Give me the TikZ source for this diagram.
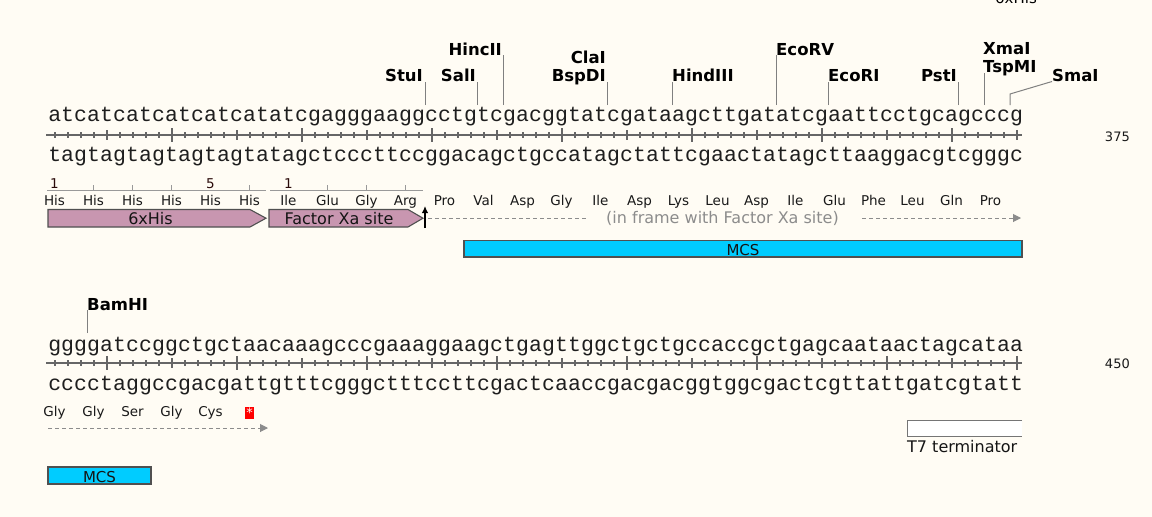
\documentclass[tikz,border=0pt]{standalone}
\usepackage{fontspec}
\setmainfont{DejaVu Sans}
\newfontfamily\seqfont{Liberation Mono}
\usetikzlibrary{arrows.meta}
\definecolor{bg}{HTML}{FFFCF4}
\definecolor{featpink}{HTML}{C896B0}
\definecolor{mcsblue}{HTML}{00CCFF}
\definecolor{rulgray}{HTML}{666666}
\definecolor{enzgray}{HTML}{808080}
\definecolor{txtgray}{HTML}{8C8C8C}
\definecolor{fborder}{HTML}{505050}
\definecolor{seqcol}{HTML}{1E1E1E}
\definecolor{numcol}{HTML}{2A0A0A}
\def\seqloopx#1{\ifx#1\relax\else\makebox[13pt]{#1}\expandafter\seqloopx\fi}
\newcommand\seqtxt[1]{\seqloopx#1\relax}
\tikzset{
  seqrow/.style={font=\seqfont\fontsize{21.5}{24}\selectfont, anchor=base west, inner sep=0pt, text=seqcol},
  enz/.style={font=\bfseries\fontsize{16.5}{18}\selectfont, inner sep=0pt, text=black},
  enzline/.style={draw=enzgray, line width=1pt},
  aa/.style={font=\fontsize{13.5}{15}\selectfont, anchor=base, inner sep=0pt, text=black!90},
  rulnum/.style={font=\fontsize{13.5}{15}\selectfont, anchor=base, inner sep=0pt, text=numcol},
  aaruler/.style={draw=enzgray!80, line width=1pt},
  mainline/.style={draw=rulgray, line width=2pt},
  tickline/.style={draw=rulgray, line width=2pt},
  featbox/.style={fill=featpink, draw=fborder, line width=1.1pt},
  mcsbox/.style={fill=mcsblue, draw=fborder, line width=1.1pt},
  flabel/.style={font=\fontsize{16}{18}\selectfont, anchor=base, inner sep=0pt, text=black!92},
  mcslabel/.style={font=\fontsize{15}{17}\selectfont, anchor=base, inner sep=0pt, text=black!92},
  posnum/.style={font=\fontsize{13}{15}\selectfont, anchor=base east, inner sep=0pt, text=black!90},
  dasharrow/.style={draw=txtgray, line width=1pt, dash pattern=on 4pt off 3pt, -{Triangle[length=8pt,width=8pt]}},
  stopbox/.style={fill=red, text=white, minimum width=9.5pt, minimum height=12pt, inner sep=0pt, font=\fontsize{13}{15}\selectfont}
}
\begin{document}
\begin{tikzpicture}[x=1pt,y=-1pt]
\fill[bg] (0,0) rectangle (1152,517);
\useasboundingbox (0,0) rectangle (1152,517);

% label cut off at the top edge, as in the reference
\node[font=\fontsize{15}{17}\selectfont, anchor=base west, inner sep=0pt] (topcut) at (995,3.3) {6xHis};

% ---------- row 1 ----------
\node[seqrow] (s1t) at (48,121.7) {\seqtxt{atcatcatcatcatcatatcgagggaaggcctgtcgacggtatcgataagcttgatatcgaattcctgcagcccg}};
\node[seqrow] (s1b) at (48,161) {\seqtxt{tagtagtagtagtagtatagctcccttccggacagctgccatagctattcgaactatagcttaaggacgtcgggc}};
\draw[mainline] (46,135) -- (1022,135);
\foreach \k in {1,...,75}{
  \pgfmathsetmacro\n{300+\k}
  \pgfmathsetmacro\h{ifthenelse(mod(\n,10)==0,7,ifthenelse(mod(\n,5)==0,5,3))}
  \draw[tickline] ({48+(\k-0.5)*13},{135-\h}) -- ({48+(\k-0.5)*13},{135+\h});
}
\node[posnum] (n375) at (1130,141.7) {375};

% enzymes row 1
\node[enz, anchor=base east] (StuI) at (423,81.5) {StuI};
\node[enz, anchor=base east] (SalI) at (476,81.5) {SalI};
\node[enz, anchor=base east] (HincII) at (502,55) {HincII};
\node[enz, anchor=base east] (ClaI) at (606,63.3) {ClaI};
\node[enz, anchor=base east] (BspDI) at (606,81.5) {BspDI};
\node[enz, anchor=base west] (HindIII) at (672,81.5) {HindIII};
\node[enz, anchor=base west] (EcoRV) at (776,55) {EcoRV};
\node[enz, anchor=base west] (EcoRI) at (828,81.5) {EcoRI};
\node[enz, anchor=base east] (PstI) at (957,81.5) {PstI};
\node[enz, anchor=base west] (XmaI) at (983,54.5) {XmaI};
\node[enz, anchor=base west] (TspMI) at (983,72) {TspMI};
\node[enz, anchor=base west] (SmaI) at (1052,81.5) {SmaI};

\coordinate (cStuI) at (425,105);
\coordinate (cSalI) at (477,105);
\coordinate (cHincII) at (503,105);
\coordinate (cClaI) at (607,105);
\coordinate (cHindIII) at (672,105);
\coordinate (cEcoRV) at (776,105);
\coordinate (cEcoRI) at (828,105);
\coordinate (cPstI) at (958,105);
\coordinate (cXmaI) at (984,105);
\coordinate (cSmaI) at (1010,105);
\draw[enzline] (cStuI) -- (cStuI |- StuI.base);
\draw[enzline] (cSalI) -- (cSalI |- SalI.base);
\draw[enzline] (cHincII) -- (cHincII |- HincII.base);
\draw[enzline] (cClaI) -- (cClaI |- BspDI.base);
\draw[enzline] (cHindIII) -- (cHindIII |- HindIII.base);
\draw[enzline] (cEcoRV) -- (cEcoRV |- EcoRV.base);
\draw[enzline] (cEcoRI) -- (cEcoRI |- EcoRI.base);
\draw[enzline] (cPstI) -- (cPstI |- PstI.base);
\draw[enzline] (cXmaI) -- ([yshift=-1pt]cXmaI |- TspMI.base);
\draw[enzline] (cSmaI) -- ++(0,-11) -- (SmaI.base west);

% amino-acid rulers
\draw[aaruler] (47,190) -- (266,190);
\foreach \x in {93.5,132.5,171.5,249.5} \draw[aaruler] (\x,185) -- (\x,190);
\node[rulnum] (r1a) at (54.5,188) {1};
\node[rulnum] (r5a) at (210.5,188) {5};
\draw[aaruler] (270,190) -- (423,190);
\foreach \x in {327.5,366.5,405.5} \draw[aaruler] (\x,185) -- (\x,190);
\node[rulnum] (r1b) at (288.5,188) {1};

% amino acids row 1
\foreach \t [count=\i] in {His,His,His,His,His,His,Ile,Glu,Gly,Arg,Pro,Val,Asp,Gly,Ile,Asp,Lys,Leu,Asp,Ile,Glu,Phe,Leu,Gln,Pro}
  \node[aa] (aaA\i) at ({54.5+39*(\i-1)},205) {\t};

% features row 1
\draw[featbox] (48,209.5) -- (250,209.5) -- (266,218.2) -- (250,227) -- (48,227) -- cycle;
\node[flabel] (his6) at (150.5,224) {6xHis};
\draw[featbox] (269,209.5) -- (408,209.5) -- (423,218.2) -- (408,227) -- (269,227) -- cycle;
\node[flabel] (fxa) at (339,224) {Factor Xa site};
\coordinate (cleaveB) at (425,228);
\coordinate (cleaveT) at (425,206);
\draw[line width=1.8pt, -{Latex[length=7pt,width=6.5pt]}] (cleaveB) -- (cleaveT);
\coordinate (fxs) at (428,218);
\coordinate (fxe) at (1021,218);
\draw[dasharrow] (fxs) -- (fxe);
\node[font=\fontsize{16}{18}\selectfont, anchor=base, text=txtgray, fill=bg, inner xsep=20pt, inner ysep=2pt] (inframe) at (722.5,223) {(in frame with Factor Xa site)};

\draw[mcsbox] (464,240.7) rectangle (1022,257);
\node[mcslabel] (mcs1) at (743,255) {MCS};

% ---------- row 2 ----------
\node[enz, anchor=base west] (BamHI) at (87,310) {BamHI};
\coordinate (cBamHI) at (87,333);
\draw[enzline] (cBamHI) -- (cBamHI |- BamHI.base);

\node[seqrow] (s2t) at (48,351.7) {\seqtxt{ggggatccggctgctaacaaagcccgaaaggaagctgagttggctgctgccaccgctgagcaataactagcataa}};
\node[seqrow] (s2b) at (48,390) {\seqtxt{cccctaggccgacgattgtttcgggctttccttcgactcaaccgacgacggtggcgactcgttattgatcgtatt}};
\draw[mainline] (46,363) -- (1022,363);
\foreach \k in {1,...,75}{
  \pgfmathsetmacro\n{375+\k}
  \pgfmathsetmacro\h{ifthenelse(mod(\n,10)==0,7,ifthenelse(mod(\n,5)==0,5,3))}
  \draw[tickline] ({48+(\k-0.5)*13},{363-\h}) -- ({48+(\k-0.5)*13},{363+\h});
}
\node[posnum] (n450) at (1130,368.5) {450};

\foreach \t [count=\i] in {Gly,Gly,Ser,Gly,Cys}
  \node[aa] (aaB\i) at ({54.5+39*(\i-1)},416) {\t};
\node[stopbox] (stop) at (249.5,413) {\raisebox{-2.5pt}{*}};

\coordinate (ifs) at (48,428);
\coordinate (ife) at (268,428);
\draw[dasharrow] (ifs) -- (ife);

\draw[mcsbox] (48,467) rectangle (151,484);
\node[mcslabel] (mcs2) at (99.5,482) {MCS};

\fill[white] (907,420) rectangle (1022,436);
\draw[draw=rulgray!90, line width=1pt] (1022,420) -- (907,420) -- (907,436) -- (1022,436);
\node[flabel, anchor=base west] (t7) at (907,452.7) {T7 terminator};
\end{tikzpicture}
\end{document}
